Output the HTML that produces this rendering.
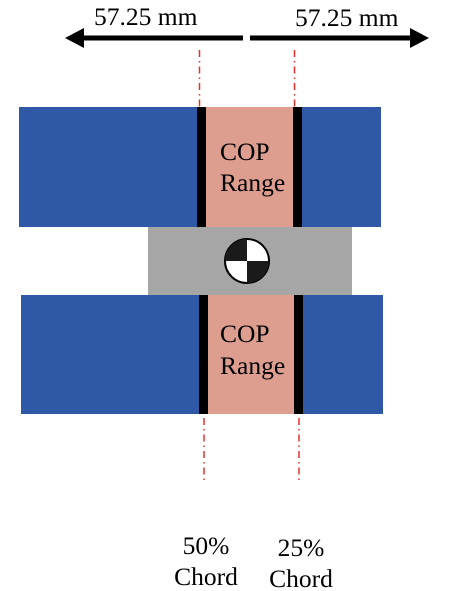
<!DOCTYPE html>
<html><head><meta charset="utf-8"><style>
html,body{margin:0;padding:0;background:#fff;}
svg{display:block;}
text{font-family:"Liberation Serif",serif;fill:#000;}
</style></head><body>
<svg width="454" height="591" viewBox="0 0 454 591">
  <g>
    <rect x="82" y="35.5" width="161" height="5" fill="#000"/>
    <polygon points="65,38 84,28 84,48" fill="#000"/>
  </g>
  <g>
    <rect x="250" y="35.5" width="162" height="5" fill="#000"/>
    <polygon points="429,38 410,28 410,48" fill="#000"/>
  </g>
  <text x="94" y="25" font-size="25.5">57.25 mm</text>
  <text x="295" y="26" font-size="25.5">57.25 mm</text>

  <line x1="199.5" y1="50" x2="199.5" y2="107" stroke="#e8302a" stroke-width="1.5" stroke-dasharray="7,4,1.5,4"/>
  <line x1="294.5" y1="50" x2="294.5" y2="107" stroke="#e8302a" stroke-width="1.5" stroke-dasharray="7,4,1.5,4"/>

  <g>
    <rect x="19" y="107" width="362" height="120" fill="#2f58a6"/>
    <rect x="206" y="107" width="87" height="120" fill="#dd9e90"/>
    <rect x="197" y="107" width="9" height="120" fill="#000"/>
    <rect x="293" y="107" width="9" height="120" fill="#000"/>
    <text x="220" y="160" font-size="25.5">COP</text>
    <text x="220" y="191" font-size="25.5">Range</text>
  </g>

  <rect x="148" y="227" width="204" height="68" fill="#a6a6a6"/>
  <g>
    <circle cx="247" cy="261" r="22" fill="#fff" stroke="#000" stroke-width="2"/>
    <path d="M247,261 L247,239 A22,22 0 0,0 225,261 Z" fill="#1a1a1a"/>
    <path d="M247,261 L247,283 A22,22 0 0,0 269,261 Z" fill="#1a1a1a"/>
  </g>

  <g>
    <rect x="21" y="295" width="362" height="119" fill="#2f58a6"/>
    <rect x="208" y="295" width="86" height="119" fill="#dd9e90"/>
    <rect x="199" y="295" width="9" height="119" fill="#000"/>
    <rect x="294" y="295" width="9" height="119" fill="#000"/>
    <text x="220" y="342" font-size="25.5">COP</text>
    <text x="220" y="374" font-size="25.5">Range</text>
  </g>

  <line x1="204" y1="418" x2="204" y2="480" stroke="#e8302a" stroke-width="1.5" stroke-dasharray="7,4,1.5,4"/>
  <line x1="299" y1="418" x2="299" y2="480" stroke="#e8302a" stroke-width="1.5" stroke-dasharray="7,4,1.5,4"/>

  <g>
    <text x="206" y="554" font-size="25.5" text-anchor="middle">50%</text>
    <text x="206" y="585" font-size="25.5" text-anchor="middle">Chord</text>
  </g>
  <g>
    <text x="301" y="556" font-size="25.5" text-anchor="middle">25%</text>
    <text x="301" y="587" font-size="25.5" text-anchor="middle">Chord</text>
  </g>
</svg>
</body></html>
